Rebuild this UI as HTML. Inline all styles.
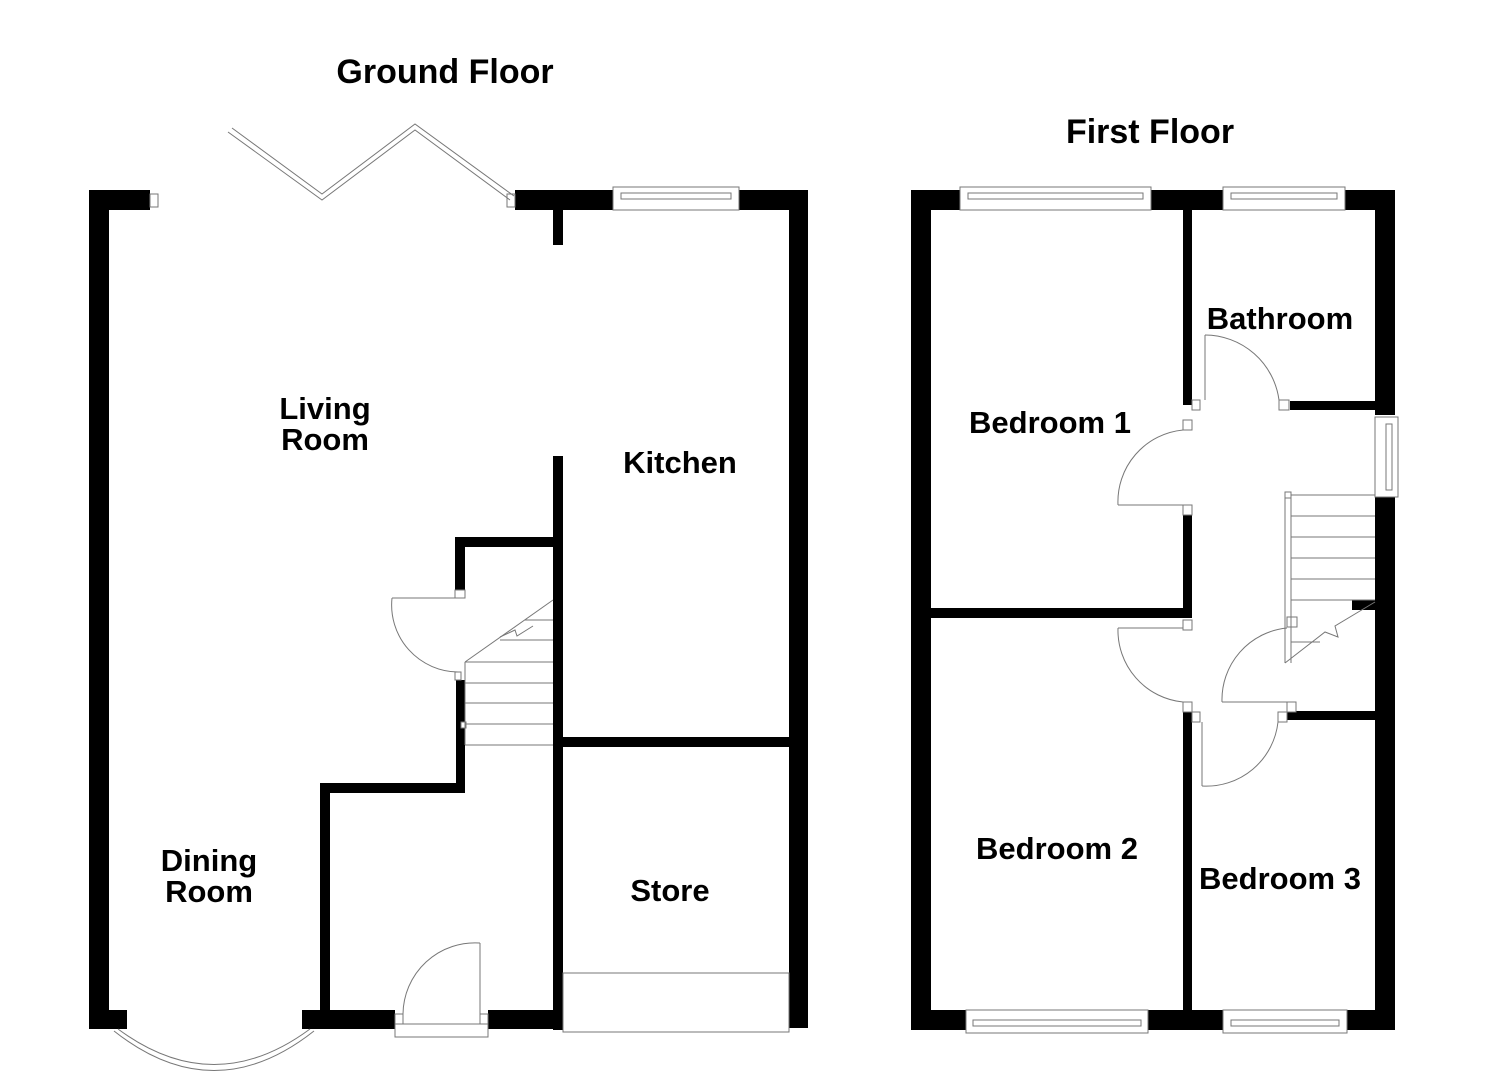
<!DOCTYPE html>
<html><head><meta charset="utf-8"><style>
html,body{margin:0;padding:0;background:#fff;}
svg{display:block;}
text{font-family:"Liberation Sans",sans-serif;font-weight:bold;fill:#000;}
</style></head><body>
<svg width="1485" height="1080" viewBox="0 0 1485 1080" xmlns="http://www.w3.org/2000/svg">
<g fill="#000">
<rect x="89" y="190" width="20" height="838"/>
<rect x="89" y="190" width="61" height="20"/>
<rect x="515" y="190" width="98" height="20"/>
<rect x="739" y="190" width="69" height="20"/>
<rect x="789" y="190" width="19" height="838"/>
<rect x="553" y="205" width="10" height="40"/>
<rect x="553" y="456" width="10" height="574"/>
<rect x="455" y="537" width="108" height="10"/>
<rect x="455" y="537" width="10" height="53"/>
<rect x="456" y="680" width="9" height="113"/>
<rect x="320" y="783" width="145" height="10"/>
<rect x="320" y="783" width="10" height="240"/>
<rect x="89" y="1010" width="38" height="19"/>
<rect x="302" y="1010" width="93" height="19"/>
<rect x="488" y="1010" width="75" height="19"/>
<rect x="563" y="737" width="226" height="10"/>
<rect x="911" y="190" width="20" height="840"/>
<rect x="911" y="190" width="49" height="20"/>
<rect x="1151" y="190" width="72" height="20"/>
<rect x="1345" y="190" width="50" height="20"/>
<rect x="1375" y="190" width="20" height="225"/>
<rect x="1375" y="497" width="20" height="533"/>
<rect x="911" y="1010" width="55" height="20"/>
<rect x="1148" y="1010" width="75" height="20"/>
<rect x="1347" y="1010" width="48" height="20"/>
<rect x="1183" y="205" width="9" height="200"/>
<rect x="1183" y="505" width="9" height="113"/>
<rect x="931" y="608" width="261" height="10"/>
<rect x="1290" y="401" width="85" height="9"/>
<rect x="1287" y="711" width="88" height="9"/>
<rect x="1183" y="712" width="9" height="298"/>
<rect x="1352" y="600" width="23" height="10"/>
</g>
<g fill="#fff" stroke="#777" stroke-width="1">
<rect x="150" y="194" width="8" height="13"/>
<rect x="507" y="194" width="8" height="13"/>
<rect x="613" y="187" width="126" height="23"/>
<rect x="621" y="193" width="110" height="6"/>
<rect x="395" y="1024" width="93" height="13"/>
<rect x="395" y="1014" width="8" height="10"/>
<rect x="480" y="1014" width="8" height="10"/>
<rect x="455" y="590" width="10" height="8"/>
<rect x="455" y="672" width="6" height="8"/>
<rect x="461" y="722" width="5" height="6"/>
<rect x="563" y="973" width="226" height="59"/>
<rect x="960" y="187" width="191" height="23"/>
<rect x="968" y="193" width="175" height="6"/>
<rect x="1223" y="187" width="122" height="23"/>
<rect x="1231" y="193" width="106" height="6"/>
<rect x="966" y="1010" width="182" height="23"/>
<rect x="973" y="1020" width="168" height="6"/>
<rect x="1223" y="1010" width="124" height="23"/>
<rect x="1231" y="1020" width="108" height="6"/>
<rect x="1375" y="417" width="23" height="80"/>
<rect x="1386" y="424" width="6" height="66"/>
<rect x="1192" y="400" width="8" height="10"/>
<rect x="1279" y="400" width="10" height="10"/>
<rect x="1183" y="420" width="9" height="10"/>
<rect x="1183" y="505" width="9" height="10"/>
<rect x="1183" y="620" width="9" height="10"/>
<rect x="1183" y="702" width="9" height="10"/>
<rect x="1192" y="712" width="8" height="10"/>
<rect x="1278" y="712" width="9" height="10"/>
<rect x="1287" y="702" width="9" height="10"/>
<rect x="1285" y="492" width="6" height="6"/>
<rect x="1287" y="617" width="10" height="10"/>
</g>
<g fill="none" stroke="#777" stroke-width="1">
<polyline points="228,132 322,200 415,130 510,200"/>
<polyline points="232,128 322,194 415,124 514,196"/>
<path d="M118,1029 Q214,1100 310,1029"/>
<path d="M114,1031 Q214,1110 314,1031"/>
<line x1="480" y1="1014" x2="480" y2="943"/>
<path d="M403,1014 A72,72 0 0 1 480,943"/>
<line x1="392" y1="598" x2="455" y2="598"/>
<path d="M392,598 A67,67 0 0 0 458,672"/>
<line x1="465" y1="662" x2="465" y2="745"/>
<line x1="465" y1="662" x2="553" y2="600"/>
<polyline points="500,637 515,630 517,636 533,626"/>
<line x1="525" y1="620" x2="553" y2="620"/>
<line x1="500" y1="640" x2="553" y2="640"/>
<line x1="465" y1="662" x2="553" y2="662"/>
<line x1="465" y1="683" x2="553" y2="683"/>
<line x1="465" y1="703" x2="553" y2="703"/>
<line x1="465" y1="724" x2="553" y2="724"/>
<line x1="465" y1="745" x2="553" y2="745"/>
<line x1="1205" y1="400" x2="1205" y2="335"/>
<path d="M1205,335 A75,75 0 0 1 1279,400"/>
<line x1="1118" y1="505" x2="1183" y2="505"/>
<path d="M1118,505 A72,72 0 0 1 1183,430"/>
<line x1="1118" y1="628" x2="1183" y2="628"/>
<path d="M1118,628 A72,72 0 0 0 1183,702"/>
<line x1="1202" y1="722" x2="1202" y2="786"/>
<path d="M1202,786 A72,72 0 0 0 1278,722"/>
<line x1="1222" y1="702" x2="1287" y2="702"/>
<path d="M1222,702 A72,72 0 0 1 1287,628"/>
<line x1="1285" y1="495" x2="1285" y2="663"/>
<line x1="1291" y1="495" x2="1291" y2="663"/>
<line x1="1291" y1="495" x2="1375" y2="495"/>
<line x1="1291" y1="516" x2="1375" y2="516"/>
<line x1="1291" y1="537" x2="1375" y2="537"/>
<line x1="1291" y1="558" x2="1375" y2="558"/>
<line x1="1291" y1="579" x2="1375" y2="579"/>
<line x1="1291" y1="600" x2="1375" y2="600"/>
<line x1="1291" y1="642" x2="1320" y2="642"/>
<polyline points="1285,663 1325,632 1338,637 1335,626 1375,602"/>
</g>
<text x="445" y="83" font-size="34" text-anchor="middle">Ground Floor</text>
<text x="1150" y="143" font-size="34" text-anchor="middle">First Floor</text>
<text x="325" y="419" font-size="31" text-anchor="middle">Living</text>
<text x="325" y="450" font-size="31" text-anchor="middle">Room</text>
<text x="680" y="473" font-size="31" text-anchor="middle">Kitchen</text>
<text x="209" y="871" font-size="31" text-anchor="middle">Dining</text>
<text x="209" y="902" font-size="31" text-anchor="middle">Room</text>
<text x="670" y="901" font-size="31" text-anchor="middle">Store</text>
<text x="1050" y="433" font-size="31" text-anchor="middle">Bedroom 1</text>
<text x="1280" y="329" font-size="31" text-anchor="middle">Bathroom</text>
<text x="1057" y="859" font-size="31" text-anchor="middle">Bedroom 2</text>
<text x="1280" y="889" font-size="31" text-anchor="middle">Bedroom 3</text>
</svg>
</body></html>
